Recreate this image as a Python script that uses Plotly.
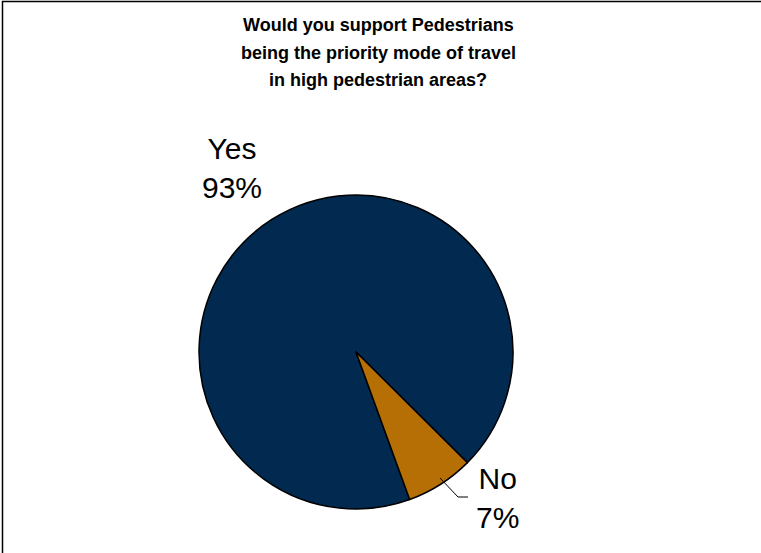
import plotly.graph_objects as go

labels = ["Yes", "No"]
values = [93, 7]
percent_text = ["93%", "7%"]
colors = ["#02294f", "#b56f05"]
title_lines = ["Would you support Pedestrians",
               "being the priority mode of travel",
               "in high pedestrian areas?"]

W, H = 761, 553

def px(x):
    return x / W

def py(y):
    return 1 - y / H

cx, cy, r = 356, 352, 157

fig = go.Figure()
fig.add_trace(go.Pie(
    labels=labels,
    values=values,
    sort=False,
    direction="clockwise",
    rotation=160,
    textinfo="none",
    hoverinfo="label+percent",
    marker=dict(colors=colors, line=dict(color="#000000", width=1.5)),
    domain=dict(x=[px(cx - r), px(cx + r)], y=[py(cy + r), py(cy - r)]),
    showlegend=False,
))

font_lbl = dict(family="Liberation Sans, Arial, sans-serif", size=30, color="#000000")
font_title = dict(family="Liberation Sans, Arial, sans-serif", size=18, color="#000000")

annotations = []
for i, line in enumerate(title_lines):
    annotations.append(dict(text=f"<b>{line}</b>", x=px(378), y=py(25 + 27.5 * i),
                            xref="paper", yref="paper", showarrow=False,
                            xanchor="center", yanchor="middle", font=font_title))

annotations += [
    dict(text=f"{labels[0]}<br>{percent_text[0]}", x=px(232), y=py(168), xref="paper", yref="paper",
         showarrow=False, xanchor="center", yanchor="middle", align="center", font=font_lbl),
    dict(text=f"{labels[1]}<br>{percent_text[1]}", x=px(497), y=py(498), xref="paper", yref="paper",
         showarrow=False, xanchor="center", yanchor="middle", align="center", font=font_lbl),
]

shapes = [
    dict(type="path", xref="paper", yref="paper",
         path=f"M {px(440)} {py(478)} L {px(458)} {py(497)} L {px(468)} {py(497)}",
         line=dict(color="#000000", width=1)),
    dict(type="rect", xref="paper", yref="paper",
         x0=px(2.5), x1=px(820), y0=py(600), y1=py(1.5),
         line=dict(color="#000000", width=1.5), fillcolor="rgba(0,0,0,0)"),
]

fig.update_layout(
    width=W, height=H,
    margin=dict(l=0, r=0, t=0, b=0),
    paper_bgcolor="#ffffff",
    plot_bgcolor="#ffffff",
    annotations=annotations,
    shapes=shapes,
)

fig.write_html("out.html")
